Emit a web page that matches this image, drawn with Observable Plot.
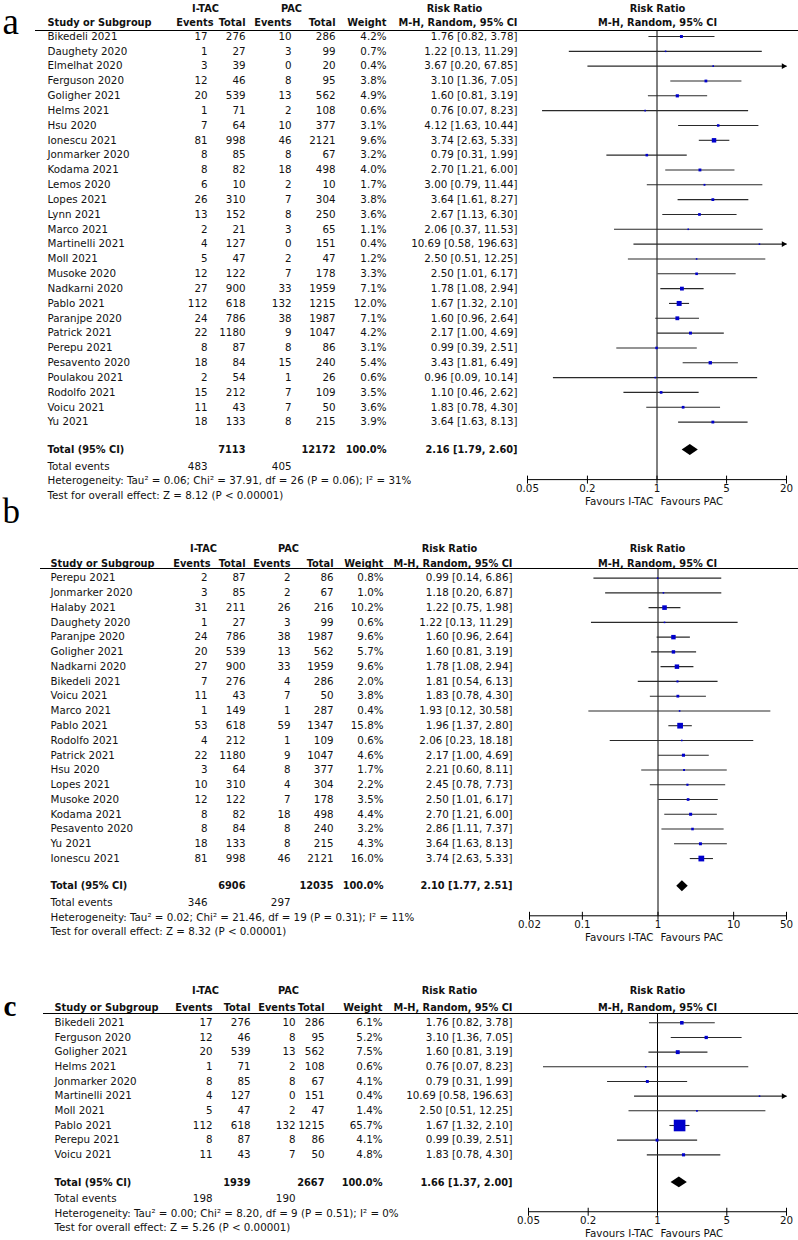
<!DOCTYPE html>
<html><head><meta charset="utf-8">
<script src="https://cdn.jsdelivr.net/npm/d3@7"></script>
<script src="https://cdn.jsdelivr.net/npm/@observablehq/plot@0.6"></script>
<style>
body{margin:0;background:#fff;}
#chart{position:relative;width:798px;height:1240px;overflow:hidden;}
#chart svg{position:absolute;left:0;display:block;}
</style></head><body><div id="chart"></div>
<script>
// ---------- Panel a ----------
const studiesA = ["Bikedeli 2021","Daughety 2020","Elmelhat 2020","Ferguson 2020","Goligher 2021","Helms 2021","Hsu 2020","Ionescu 2021","Jonmarker 2020","Kodama 2021","Lemos 2020","Lopes 2021","Lynn 2021","Marco 2021","Martinelli 2021","Moll 2021","Musoke 2020","Nadkarni 2020","Pablo 2021","Paranjpe 2020","Patrick 2021","Perepu 2021","Pesavento 2020","Poulakou 2021","Rodolfo 2021","Voicu 2021","Yu 2021"];
const itacEventsA = [17,1,3,12,20,1,7,81,8,8,6,26,13,2,4,5,12,27,112,24,22,8,18,2,15,11,18];
const itacTotalA  = [276,27,39,46,539,71,64,998,85,82,10,310,152,21,127,47,122,900,618,786,1180,87,84,54,212,43,133];
const pacEventsA  = [10,3,0,8,13,2,10,46,8,18,2,7,8,3,0,2,7,33,132,38,9,8,15,1,7,7,8];
const pacTotalA   = [286,99,20,95,562,108,377,2121,67,498,10,304,250,65,151,47,178,1959,1215,1987,1047,86,240,26,109,50,215];
const weightA = [4.2,0.7,0.4,3.8,4.9,0.6,3.1,9.6,3.2,4.0,1.7,3.8,3.6,1.1,0.4,1.2,3.3,7.1,12.0,7.1,4.2,3.1,5.4,0.6,3.5,3.6,3.9];
const rrA = [1.76,1.22,3.67,3.10,1.60,0.76,4.12,3.74,0.79,2.70,3.00,3.64,2.67,2.06,10.69,2.50,2.50,1.78,1.67,1.60,2.17,0.99,3.43,0.96,1.10,1.83,3.64];
const loA = [0.82,0.13,0.20,1.36,0.81,0.07,1.63,2.63,0.31,1.21,0.79,1.61,1.13,0.37,0.58,0.51,1.01,1.08,1.32,0.96,1.00,0.39,1.81,0.09,0.46,0.78,1.63];
const hiA = [3.78,11.29,67.85,7.05,3.19,8.23,10.44,5.33,1.99,6.00,11.44,8.27,6.30,11.53,196.63,12.25,6.17,2.94,2.10,2.64,4.69,2.51,6.49,10.14,2.62,4.30,8.13];
const totalsA = {t1: 7113, t2: 12172, e1: 483, e2: 405, rr: 2.16, lo: 1.79, hi: 2.60};
const hetA = "Heterogeneity: Tau² = 0.06; Chi² = 37.91, df = 26 (P = 0.06); I² = 31%";
const testA = "Test for overall effect: Z = 8.12 (P < 0.00001)";
const ticksA = [0.05, 0.2, 1, 5, 20];

// ---------- Panel b ----------
const studiesB = ["Perepu 2021","Jonmarker 2020","Halaby 2021","Daughety 2020","Paranjpe 2020","Goligher 2021","Nadkarni 2020","Bikedeli 2021","Voicu 2021","Marco 2021","Pablo 2021","Rodolfo 2021","Patrick 2021","Hsu 2020","Lopes 2021","Musoke 2020","Kodama 2021","Pesavento 2020","Yu 2021","Ionescu 2021"];
const itacEventsB = [2,3,31,1,24,20,27,7,11,1,53,4,22,3,10,12,8,8,18,81];
const itacTotalB  = [87,85,211,27,786,539,900,276,43,149,618,212,1180,64,310,122,82,84,133,998];
const pacEventsB  = [2,2,26,3,38,13,33,4,7,1,59,1,9,8,4,7,18,8,8,46];
const pacTotalB   = [86,67,216,99,1987,562,1959,286,50,287,1347,109,1047,377,304,178,498,240,215,2121];
const weightB = [0.8,1.0,10.2,0.6,9.6,5.7,9.6,2.0,3.8,0.4,15.8,0.6,4.6,1.7,2.2,3.5,4.4,3.2,4.3,16.0];
const rrB = [0.99,1.18,1.22,1.22,1.60,1.60,1.78,1.81,1.83,1.93,1.96,2.06,2.17,2.21,2.45,2.50,2.70,2.86,3.64,3.74];
const loB = [0.14,0.20,0.75,0.13,0.96,0.81,1.08,0.54,0.78,0.12,1.37,0.23,1.00,0.60,0.78,1.01,1.21,1.11,1.63,2.63];
const hiB = [6.86,6.87,1.98,11.29,2.64,3.19,2.94,6.13,4.30,30.58,2.80,18.18,4.69,8.11,7.73,6.17,6.00,7.37,8.13,5.33];
const totalsB = {t1: 6906, t2: 12035, e1: 346, e2: 297, rr: 2.10, lo: 1.77, hi: 2.51};
const hetB = "Heterogeneity: Tau² = 0.02; Chi² = 21.46, df = 19 (P = 0.31); I² = 11%";
const testB = "Test for overall effect: Z = 8.32 (P < 0.00001)";
const ticksB = [0.02, 0.1, 1, 10, 50];

// ---------- Panel c ----------
const studiesC = ["Bikedeli 2021","Ferguson 2020","Goligher 2021","Helms 2021","Jonmarker 2020","Martinelli 2021","Moll 2021","Pablo 2021","Perepu 2021","Voicu 2021"];
const itacEventsC = [17,12,20,1,8,4,5,112,8,11];
const itacTotalC  = [276,46,539,71,85,127,47,618,87,43];
const pacEventsC  = [10,8,13,2,8,0,2,132,8,7];
const pacTotalC   = [286,95,562,108,67,151,47,1215,86,50];
const weightC = [6.1,5.2,7.5,0.6,4.1,0.4,1.4,65.7,4.1,4.8];
const rrC = [1.76,3.10,1.60,0.76,0.79,10.69,2.50,1.67,0.99,1.83];
const loC = [0.82,1.36,0.81,0.07,0.31,0.58,0.51,1.32,0.39,0.78];
const hiC = [3.78,7.05,3.19,8.23,1.99,196.63,12.25,2.10,2.51,4.30];
const totalsC = {t1: 1939, t2: 2667, e1: 198, e2: 190, rr: 1.66, lo: 1.37, hi: 2.00};
const hetC = "Heterogeneity: Tau² = 0.00; Chi² = 8.20, df = 9 (P = 0.51); I² = 0%";
const testC = "Test for overall effect: Z = 5.26 (P < 0.00001)";
const ticksC = [0.05, 0.2, 1, 5, 20];

// ---------- layout (page pixel coordinates) ----------
const FONT = "DejaVu Sans";
const FS = 10.3;      // regular text size
const FSB = 9.8;      // bold header size
const layoutA = {top: 0, height: 512, letter: "a", letterSize: 37, letterWeight: "normal", letterX: 2, letterBase: 33,
  hdr1: 8, hdr2: 22, lineY: 30, lineX0: 35, rowY0: 36, step: 14.83,
  cols: {name: 47, hEv1: 213, ev1: 207, tot1: 245, ev2: 291, tot2: 335, w: 386, ci: 517, itac: 205, pac: 291, rrh: 454},
  domain: [0.05, 20], range: [527, 786]};
const layoutB = {top: 490, height: 460, letter: "b", letterSize: 35, letterWeight: "normal", letterX: 2, letterBase: 522,
  hdr1: 548, hdr2: 563, lineY: 568, lineX0: 40, rowY0: 577.6, step: 14.76,
  cols: {name: 50, hEv1: 210, ev1: 207, tot1: 245, ev2: 290, tot2: 333, w: 383, ci: 512, itac: 203, pac: 288, rrh: 449},
  domain: [0.02, 50], range: [529, 786]};
const layoutC = {top: 955, height: 285, letter: "c", letterSize: 29, letterWeight: "bold", letterX: 3, letterBase: 1015,
  hdr1: 990, hdr2: 1007, lineY: 1013, lineX0: 43, rowY0: 1022.3, step: 14.67,
  cols: {name: 54, hEv1: 212, ev1: 212, tot1: 250, ev2: 295, tot2: 324, w: 382, ci: 512, itac: 205, pac: 288, rrh: 449},
  domain: [0.05, 20], range: [528, 786]};

const fmt2 = v => v.toFixed(2);
const ciText = (r, l, h) => `${fmt2(r)} [${fmt2(l)}, ${fmt2(h)}]`;

function panel(L, D) {
  const C = L.cols;
  const rel = px => px - L.top;
  const toRow = px => (px - L.rowY0) / L.step;
  const rows = D.studies.map((s, i) => ({i, s, e1: D.e1[i], t1: D.t1[i], e2: D.e2[i], t2: D.t2[i],
    w: D.w[i], rr: D.rr[i], lo: D.lo[i], hi: D.hi[i]}));
  const n = rows.length;
  const totalRow = n - 1 + 1.88;
  const eventsRow = totalRow + 1.1;
  const hetRow = totalRow + 2.1;
  const testRow = totalRow + 3.1;
  const axisRow = totalRow + 2.0;
  const lineRow = toRow(L.lineY);
  const axisPx = L.rowY0 + axisRow * L.step;
  const tickHalf = 4 / L.step;
  const T = D.totals;

  const hdr = (text, x, y, anchor) => Plot.text([text], {frameAnchor: "top-left", dx: x, dy: rel(y),
    textAnchor: anchor, lineAnchor: "middle", fontWeight: "bold", fontSize: FSB});
  const col = (x, fn, anchor = "end") => Plot.text(rows, {y: "i", text: fn, frameAnchor: "left", dx: x,
    textAnchor: anchor, lineAnchor: "middle"});
  const at = (row, x, text, anchor = "end", bold = false) => Plot.text([text], {y: row, frameAnchor: "left", dx: x,
    textAnchor: anchor, lineAnchor: "middle", fontWeight: bold ? "bold" : "normal", fontSize: bold ? FSB : FS});

  const diamond = [
    {y: totalRow - 0.37, x1: T.rr, x2: T.rr},
    {y: totalRow, x1: T.lo, x2: T.hi},
    {y: totalRow + 0.37, x1: T.rr, x2: T.rr}
  ];
  const dmax = L.domain[1];
  const forestC = 657;

  const svg = Plot.plot({
    width: 798, height: L.height,
    marginTop: 0, marginLeft: 0, marginRight: 0, marginBottom: 0,
    x: {type: "log", domain: L.domain, range: L.range, clamp: true, axis: null},
    y: {domain: [0, 1], range: [rel(L.rowY0), rel(L.rowY0) + L.step], axis: null},
    r: {type: "sqrt", domain: [0, 100], range: [0, 8.1]},
    style: {fontFamily: FONT, fontSize: FS + "px", color: "#111", background: "transparent", overflow: "visible"},
    marks: [
      // panel letter
      Plot.text([L.letter], {frameAnchor: "top-left", dx: L.letterX, dy: rel(L.letterBase), lineAnchor: "bottom",
        textAnchor: "start", fontFamily: "Liberation Serif", fontSize: L.letterSize, fontWeight: L.letterWeight, fill: "#000"}),
      // headers
      hdr("I-TAC", C.itac, L.hdr1, "middle"),
      hdr("PAC", C.pac, L.hdr1, "middle"),
      hdr("Risk Ratio", C.rrh, L.hdr1, "middle"),
      hdr("Risk Ratio", forestC, L.hdr1, "middle"),
      hdr("Study or Subgroup", C.name, L.hdr2, "start"),
      hdr("Events", C.hEv1, L.hdr2, "end"),
      hdr("Total", C.tot1, L.hdr2, "end"),
      hdr("Events", C.ev2, L.hdr2, "end"),
      hdr("Total", C.tot2, L.hdr2, "end"),
      hdr("Weight", C.w, L.hdr2, "end"),
      hdr("M-H, Random, 95% CI", C.ci, L.hdr2, "end"),
      hdr("M-H, Random, 95% CI", forestC, L.hdr2, "middle"),
      Plot.ruleY([lineRow], {insetLeft: L.lineX0, stroke: "#000", strokeWidth: 1}),
      // study rows
      col(C.name, d => d.s, "start"),
      col(C.ev1, d => String(d.e1)),
      col(C.tot1, d => String(d.t1)),
      col(C.ev2, d => String(d.e2)),
      col(C.tot2, d => String(d.t2)),
      col(C.w, d => d.w.toFixed(1) + "%"),
      col(C.ci, d => ciText(d.rr, d.lo, d.hi)),
      // totals
      at(totalRow, C.name, "Total (95% CI)", "start", true),
      at(totalRow, C.tot1, String(T.t1), "end", true),
      at(totalRow, C.tot2, String(T.t2), "end", true),
      at(totalRow, C.w, "100.0%", "end", true),
      at(totalRow, C.ci, ciText(T.rr, T.lo, T.hi), "end", true),
      at(eventsRow, C.name, "Total events", "start"),
      at(eventsRow, C.ev1, String(T.e1)),
      at(eventsRow, C.ev2, String(T.e2)),
      at(hetRow, C.name, D.het, "start"),
      at(testRow, C.name, D.test, "start"),
      // forest
      Plot.ruleX([1], {y1: lineRow, y2: axisRow, stroke: "#000", strokeWidth: 1}),
      Plot.link(rows, {x1: "lo", x2: "hi", y1: "i", y2: "i", stroke: "#2a2a2a", strokeWidth: 1.1}),
      Plot.dot(rows.filter(d => d.hi > dmax), {x: "hi", y: "i", symbol: "triangle", r: 2.2, rotate: 90,
        fill: "#000", stroke: null, dx: -3}),
      Plot.dot(rows, {x: "rr", y: "i", r: d => Math.max(d.w, 1.2), symbol: "square", fill: "#0000cc", stroke: null}),
      Plot.areaX(diamond, {y: "y", x1: "x1", x2: "x2", fill: "#000", curve: "linear"}),
      // axis
      Plot.ruleY([axisRow], {x1: L.domain[0], x2: L.domain[1], stroke: "#000", strokeWidth: 1}),
      Plot.link(D.ticks, {x1: d => d, x2: d => d, y1: axisRow - tickHalf, y2: axisRow + tickHalf, stroke: "#000", strokeWidth: 1}),
      Plot.text(D.ticks, {x: d => d, y: axisRow, dy: 9, text: d => String(d), textAnchor: "middle", lineAnchor: "middle"}),
      Plot.text(["Favours I-TAC"], {frameAnchor: "top-left", dx: 653, dy: rel(axisPx) + 22, textAnchor: "end", lineAnchor: "middle"}),
      Plot.text(["Favours PAC"], {frameAnchor: "top-left", dx: 660, dy: rel(axisPx) + 22, textAnchor: "start", lineAnchor: "middle"})
    ]
  });
  svg.style.top = L.top + "px";
  return svg;
}

const chart = document.getElementById("chart");
chart.append(
  panel(layoutA, {studies: studiesA, e1: itacEventsA, t1: itacTotalA, e2: pacEventsA, t2: pacTotalA, w: weightA,
    rr: rrA, lo: loA, hi: hiA, totals: totalsA, het: hetA, test: testA, ticks: ticksA}),
  panel(layoutB, {studies: studiesB, e1: itacEventsB, t1: itacTotalB, e2: pacEventsB, t2: pacTotalB, w: weightB,
    rr: rrB, lo: loB, hi: hiB, totals: totalsB, het: hetB, test: testB, ticks: ticksB}),
  panel(layoutC, {studies: studiesC, e1: itacEventsC, t1: itacTotalC, e2: pacEventsC, t2: pacTotalC, w: weightC,
    rr: rrC, lo: loC, hi: hiC, totals: totalsC, het: hetC, test: testC, ticks: ticksC})
);
</script></body></html>
